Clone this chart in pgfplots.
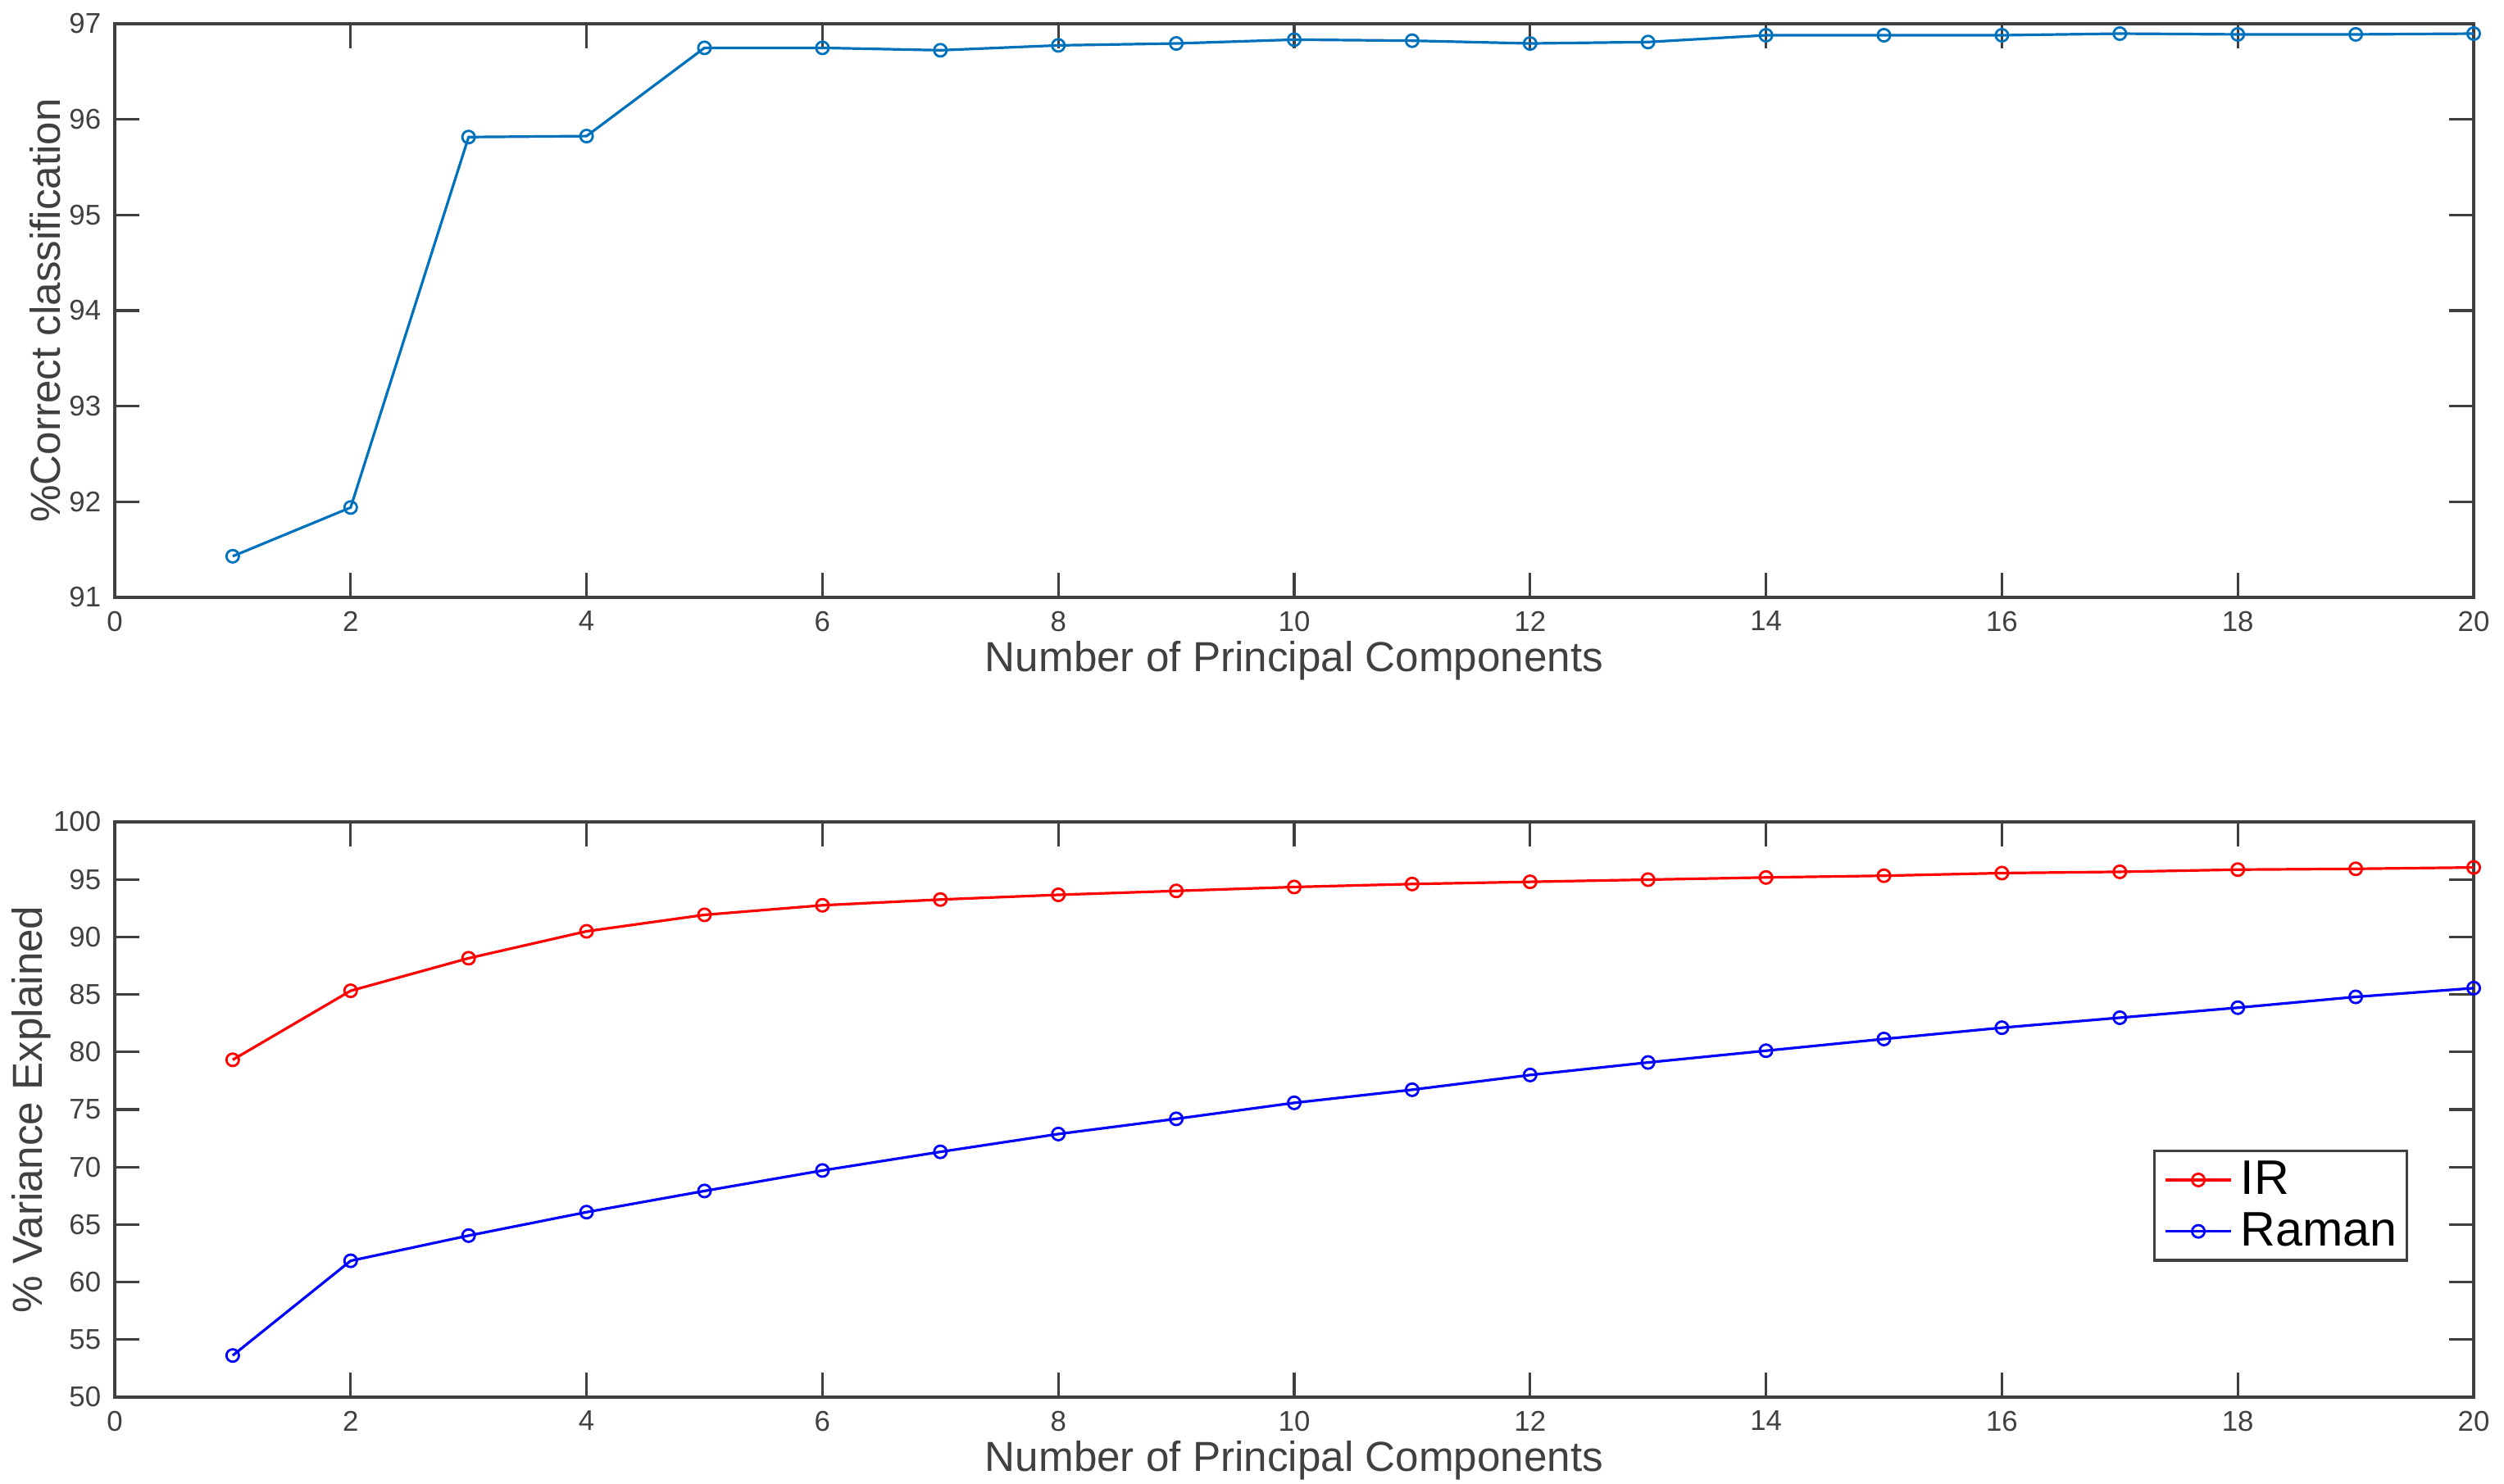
\documentclass[border=0pt]{standalone}
\usepackage{fontspec}
\setmainfont{Liberation Sans}
\usepackage{pgfplots}
\usepackage{pgfplotstable}
\pgfplotsset{compat=1.18}
\definecolor{axgray}{RGB}{64,64,64}
\definecolor{mblue}{RGB}{0,114,189}

\pgfplotstableread{
x y
1 91.43
2 91.94
3 95.815
4 95.825
5 96.748
6 96.748
7 96.723
8 96.774
9 96.794
10 96.834
11 96.823
12 96.794
13 96.809
14 96.880
15 96.880
16 96.880
17 96.897
18 96.889
19 96.889
20 96.897
}\classdata

\pgfplotstableread{
x y
1 79.32
2 85.32
3 88.15
4 90.49
5 91.92
6 92.75
7 93.25
8 93.66
9 94.00
10 94.34
11 94.60
12 94.79
13 94.98
14 95.17
15 95.32
16 95.55
17 95.66
18 95.85
19 95.92
20 96.04
}\irdata

\pgfplotstableread{
x y
1 53.62
2 61.85
3 64.04
4 66.08
5 67.92
6 69.70
7 71.32
8 72.87
9 74.19
10 75.58
11 76.72
12 78.00
13 79.09
14 80.11
15 81.13
16 82.11
17 82.98
18 83.85
19 84.79
20 85.55
}\ramandata

\pgfplotsset{
  mystyle/.style={
    scale only axis,
    width=719.5pt,
    xmin=0, xmax=20, xtick={0,2,...,20},
    axis line style={axgray, line width=0.8pt},
    every tick/.style={axgray, line width=0.8pt},
    major tick length=7.5pt,
    tick align=inside,
    clip=false,
    /pgf/number format/assume math mode=true,
    tick label style={font=\fontsize{8.7}{8.7}\selectfont, text=axgray, inner sep=0pt},
    xticklabel style={yshift=-4pt},
    yticklabel style={xshift=-4pt},
    xlabel={Number of Principal Components},
    every axis x label/.style={at={(axis description cs:0.5,-0.1291)}, anchor=base,
      font=\fontsize{12.8}{12.8}\selectfont, text=axgray, inner sep=0pt},
  },
  every axis y label/.style={rotate=90, anchor=base,
      font=\fontsize{12.8}{12.8}\selectfont, text=axgray, inner sep=0pt},
}

\begin{document}
\begin{tikzpicture}
\path[use as bounding box] (0,0) rectangle (763.75pt,452.75pt);

\begin{axis}[mystyle,
  at={(35pt,270.5pt)}, anchor=south west,
  height=175pt,
  ymin=91, ymax=97, ytick={91,92,...,97},
  ylabel={\%Correct classification},
  ylabel style={at={(axis description cs:-0.02293,0.5)}},
]
\addplot[color=mblue, line width=0.8pt, mark=o, mark size=1.9pt, mark options={solid, line width=0.7pt}]
  table[x=x,y=y] {\classdata};
\end{axis}

\begin{axis}[mystyle,
  at={(35pt,26.5pt)}, anchor=south west,
  height=175.5pt,
  ymin=50, ymax=100, ytick={50,55,...,100},
  ylabel={\% Variance Explained},
  ylabel style={at={(axis description cs:-0.03072,0.5)}},
  legend style={at={(0.8641,0.4302)}, anchor=north west, draw=axgray, line width=0.8pt, fill=white,
    font=\fontsize{14.8}{14.8}\selectfont, text=black, inner xsep=3pt, inner ysep=3pt,
    row sep=4pt, column sep=2.5pt, nodes={inner sep=0pt}, cells={anchor=west}},
  legend image code/.code={\draw[mark repeat=2,mark phase=2,#1] plot coordinates {(0pt,0pt) (10pt,0pt) (20pt,0pt)};},
]
\addplot[color=red, line width=0.8pt, mark=o, mark size=1.9pt, mark options={solid, line width=0.7pt}]
  table[x=x,y=y] {\irdata};
\addlegendentry{IR}
\addplot[color=blue, line width=0.8pt, mark=o, mark size=1.9pt, mark options={solid, line width=0.7pt}]
  table[x=x,y=y] {\ramandata};
\addlegendentry{Raman}
\end{axis}
\end{tikzpicture}
\end{document}
